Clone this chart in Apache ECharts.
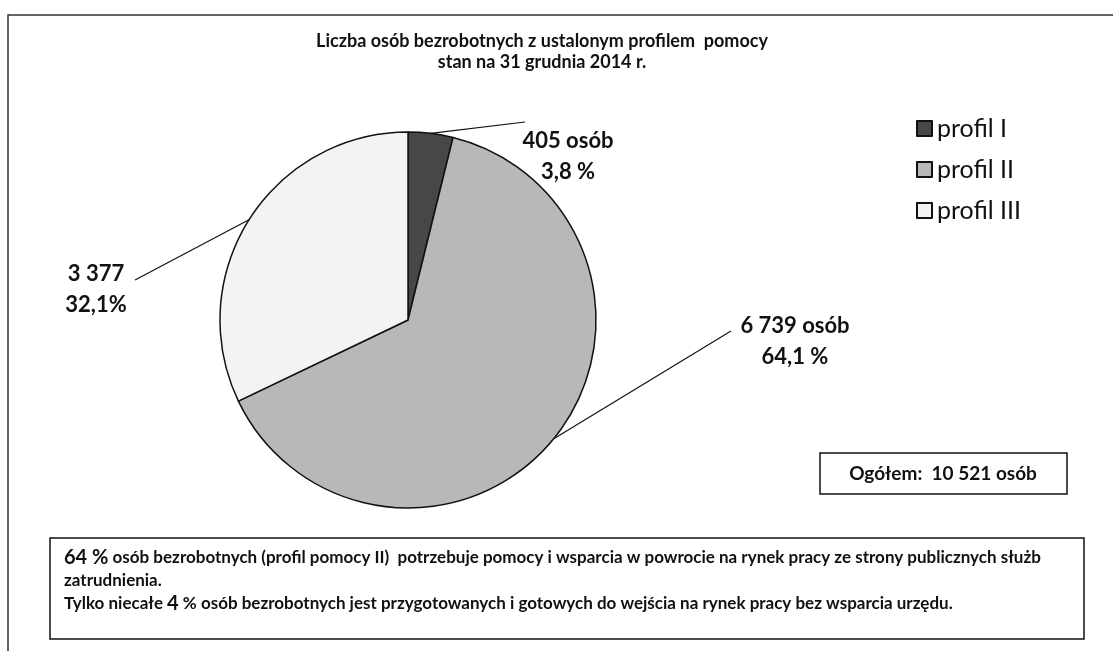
<!DOCTYPE html>
<html lang="pl">
<head>
<meta charset="UTF-8" />
<title>Liczba osób bezrobotnych z ustalonym profilem pomocy</title>
<script src="https://cdn.jsdelivr.net/npm/echarts@6/dist/echarts.min.js"></script>
<style>
	html, body { margin: 0; padding: 0; background: #fff; }
	#main { width: 1113px; height: 651px; }
</style>
</head>
<body>
<div id="main"></div>
<script>
	// dane z wykresu
	var profile = ['profil I', 'profil II', 'profil III'];
	var osoby = [405, 6739, 3377];
	var opisyLiczb = ['405 osób', '6 739 osób', '3 377'];
	var opisyProcent = ['3,8 %', '64,1 %', '32,1%'];
	var kolory = ['#474747', '#b8b8b8', '#f3f3f3'];

	// gdzie stoją podpisy (środek tekstu) i gdzie kończy się linia
	var podpisXY = [[568, 156], [795, 341], [96, 289]];
	var koniecLinii = [[525, 122], [731, 331], [135, 280]];

	var font = 'Lato, "Open Sans", sans-serif';
	var mychart = echarts.init(document.getElementById('main'));

	var dane = profile.map(function (p, i) {
		return { name: p, value: osoby[i], itemStyle: { color: kolory[i] } };
	});

	mychart.setOption({
		animation: false,
		title: {
			text: 'Liczba osób bezrobotnych z ustalonym profilem  pomocy\nstan na 31 grudnia 2014 r.',
			left: 537,
			top: 26,
			textAlign: 'center',
			textStyle: { fontFamily: font, fontSize: 18, fontWeight: 'bold', color: '#111', lineHeight: 21 }
		},
		legend: {
			orient: 'vertical',
			left: 911,
			top: 111,
			icon: 'rect',
			itemWidth: 15,
			itemHeight: 15,
			itemGap: 16,
			textStyle: { fontFamily: font, fontSize: 25, color: '#111', lineHeight: 25 },
			data: profile
		},
		graphic: [
			{ // ramka całego rysunku
				type: 'rect',
				shape: { x: 8, y: 15, width: 1200, height: 700 },
				style: { fill: 'none', stroke: '#333', lineWidth: 1.5 }
			},
			{
				type: 'rect',
				shape: { x: 820, y: 453, width: 247, height: 41 },
				style: { fill: '#fff', stroke: '#111', lineWidth: 1.5 }
			},
			{
				type: 'text',
				x: 943, y: 474,
				style: {
					text: 'Ogółem:  10 521 osób',
					align: 'center', verticalAlign: 'middle',
					font: 'bold 19px ' + font, fill: '#111'
				}
			},
			{
				type: 'rect',
				shape: { x: 50, y: 538, width: 1034, height: 101 },
				style: { fill: '#fff', stroke: '#111', lineWidth: 1.5 }
			},
			{
				type: 'text',
				x: 64, y: 546,
				style: {
					text: '{big|64 %} osób bezrobotnych (profil pomocy II)  potrzebuje pomocy i wsparcia w powrocie na rynek pracy ze strony publicznych służb\n' +
						'zatrudnienia.\n' +
						'Tylko niecałe {big|4} % osób bezrobotnych jest przygotowanych i gotowych do wejścia na rynek pracy bez wsparcia urzędu.',
					font: 'bold 17px ' + font, fill: '#111', lineHeight: 23,
					rich: {
						big: { font: 'bold 20px ' + font, fill: '#111', lineHeight: 23 }
					}
				}
			}
		],
		series: [
			{
				type: 'pie',
				center: [408, 320],
				radius: 188,
				startAngle: 90,
				clockwise: true,
				avoidLabelOverlap: false,
				data: dane,
				itemStyle: { borderColor: '#111', borderWidth: 1.5 },
				emphasis: { disabled: true },
				label: {
					show: true,
					position: 'outside',
					formatter: function (p) {
						return opisyLiczb[p.dataIndex] + '\n' + opisyProcent[p.dataIndex];
					},
					fontFamily: font,
					fontSize: 22,
					fontWeight: 'bold',
					color: '#111',
					lineHeight: 31,
					align: 'center'
				},
				labelLine: {
					show: true,
					length: 10,
					length2: 10,
					lineStyle: { color: '#111', width: 1.2 }
				},
				labelLayout: function (params) {
					var i = params.dataIndex;
					var pts = params.labelLinePoints;
					var start = pts ? pts[0] : koniecLinii[i];
					return {
						x: podpisXY[i][0],
						y: podpisXY[i][1],
						align: 'center',
						verticalAlign: 'middle',
						labelLinePoints: [start, start, koniecLinii[i]]
					};
				}
			}
		]
	});
</script>
</body>
</html>
